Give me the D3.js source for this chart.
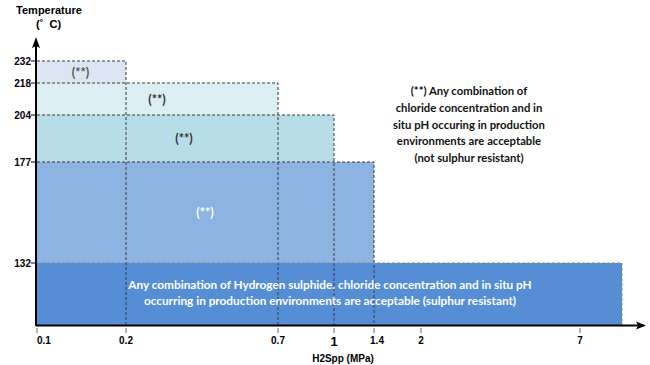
<!DOCTYPE html>
<html><head><meta charset="utf-8">
<script src="https://cdn.jsdelivr.net/npm/d3@7"></script>
<style>body{margin:0;background:#fff}svg{display:block}</style>
</head><body><svg id="c" width="650" height="365"></svg>
<script>
// ---- data ----
const xTicks = [0.1, 0.2, 0.7, 1, 1.4, 2, 7];
const yTicks = [132, 177, 204, 218, 232];
const xMax = 9.3;      // right end of the bottom band (unlabelled)
const yMin = 100;      // value at the x axis (unlabelled)
// bands: top temperature, lower temperature, max H2S partial pressure
const bandTop   = [232, 218, 204, 177, 132];
const bandLow   = [218, 204, 177, 132, 100];
const bandXMax  = [0.2, 0.7, 1, 1.4, 9.3];
const bandLabel = ["(**)", "(**)", "(**)", "(**)", ""];
const bottomText = ["Any combination of Hydrogen sulphide. chloride concentration and in situ pH",
                    "occurring in production environments are acceptable (sulphur resistant)"];
const noteText = ["(**) Any combination of", "chloride concentration and in",
                  "situ pH occuring in production", "environments  are acceptable",
                  "(not sulphur resistant)"];

// ---- layout ----
const svg = d3.select("#c");
const fills = ["#DCE6F2", "#DBEEF4", "#B7DDE8", "#8DB3E2", "#558ED5"];
const labelCol = ["#555", "#333", "#333", "#fff"];
const x = d3.scaleLinear().domain([...xTicks, xMax]).range([37, 126, 278, 334, 374, 421, 580, 622]);
const y = d3.scaleLinear().domain([yMin, ...yTicks]).range([325, 263, 162, 115, 83, 61]);
const x0 = x(0.1);

// band fills
bandTop.forEach((t, i) => {
  svg.append("rect").attr("x", x0).attr("y", y(t))
    .attr("width", x(bandXMax[i]) - x0).attr("height", y(bandLow[i]) - y(t))
    .attr("fill", fills[i]);
});
// dashed outlines (full rects to axis)
bandTop.forEach((t, i) => {
  const xr = x(bandXMax[i]);
  svg.append("path")
    .attr("d", `M${x0},${y(t)}H${xr}V${y(yMin)}`)
    .attr("fill", "none").attr("stroke", i === 4 ? "#7d8aa0" : "#3a3a3a")
    .attr("stroke-width", 1).attr("stroke-dasharray", "3,2");
});
// band labels
bandLabel.forEach((l, i) => {
  if (!l) return;
  const cx = i === 0 ? (x0 + x(0.2)) / 2 - 1 : [157, 184, 205][i - 1];
  svg.append("text").attr("x", cx).attr("y", (y(bandTop[i]) + y(bandLow[i])) / 2 + 4.5)
    .attr("text-anchor", "middle").attr("font-family", "Lato, 'Open Sans', sans-serif")
    .attr("font-weight", "bold").attr("font-size", 12.5).attr("fill", labelCol[i]).text(l);
});
// bottom text
bottomText.forEach((s, i) => {
  svg.append("text").attr("x", 330).attr("y", 289 + i * 16)
    .attr("text-anchor", "middle").attr("font-family", "Lato, 'Open Sans', sans-serif")
    .attr("font-weight", "bold").attr("font-size", 11.8).attr("fill", "#fff").text(s);
});
// note
noteText.forEach((s, i) => {
  svg.append("text").attr("x", 469).attr("y", 95 + i * 16.8)
    .attr("text-anchor", "middle").attr("font-family", "Lato, 'Open Sans', sans-serif")
    .attr("font-weight", "bold").attr("font-size", 11.3).attr("fill", "#111").text(s);
});

// axes
svg.append("line").attr("x1", 36).attr("x2", 638).attr("y1", 325.5).attr("y2", 325.5)
  .attr("stroke", "#000").attr("stroke-width", 2);
svg.append("path").attr("d", "M646,325.5L636,321.5L638,325.5L636,329.5Z").attr("fill", "#000");
svg.append("line").attr("x1", 36).attr("x2", 36).attr("y1", 326).attr("y2", 46)
  .attr("stroke", "#000").attr("stroke-width", 2);
svg.append("path").attr("d", "M36,37L32,48L36,46L40,48Z").attr("fill", "#000");

// y ticks
yTicks.forEach(v => {
  svg.append("line").attr("x1", 31).attr("x2", 36).attr("y1", y(v)).attr("y2", y(v))
    .attr("stroke", "#000").attr("stroke-width", 1);
  svg.append("text").attr("x", 31).attr("y", y(v) + 3.5).attr("text-anchor", "end")
    .attr("font-family", "Arial, 'Liberation Sans', sans-serif").attr("font-weight", "bold")
    .attr("font-size", 10).attr("fill", "#000").text(v);
});
// x ticks
xTicks.forEach((v, i) => {
  svg.append("line").attr("x1", x(v)).attr("x2", x(v)).attr("y1", 328).attr("y2", 333)
    .attr("stroke", "#666").attr("stroke-width", 1);
  const big = v === 1;
  svg.append("text").attr("x", i === 0 ? x(v) : x(v) + (v === 1.4 ? 3 : 0)).attr("y", big ? 346 : 344)
    .attr("text-anchor", i === 0 ? "start" : "middle")
    .attr("font-family", "Arial, 'Liberation Sans', sans-serif").attr("font-weight", "bold")
    .attr("font-size", big ? 13 : 10).attr("fill", "#000").text(v);
});
// axis titles
svg.append("text").attr("x", 343).attr("y", 362).attr("text-anchor", "middle")
  .attr("font-family", "Arial, 'Liberation Sans', sans-serif").attr("font-weight", "bold")
  .attr("font-size", 10).text("H2Spp (MPa)");
svg.append("text").attr("x", 49).attr("y", 14).attr("text-anchor", "middle")
  .attr("font-family", "Arial, 'Liberation Sans', sans-serif").attr("font-weight", "bold")
  .attr("font-size", 11).text("Temperature");
svg.append("text").attr("x", 36).attr("y", 28)
  .attr("font-family", "Arial, 'Liberation Sans', sans-serif").attr("font-weight", "bold")
  .attr("font-size", 11).attr("xml:space", "preserve").text("(˚  C)");
</script></body></html>
